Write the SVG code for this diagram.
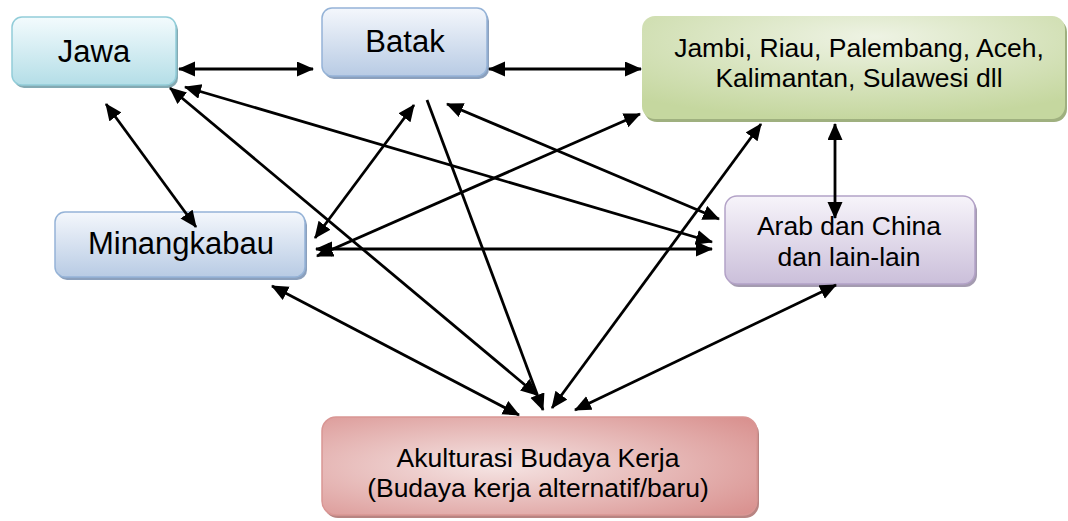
<svg xmlns="http://www.w3.org/2000/svg" width="1068" height="521" viewBox="0 0 1068 521">
<style>
.big{font-size:31px}
.sm{font-size:26.5px}
.c{fill:none;stroke:#000;stroke-width:2.8;marker-end:url(#ah)}
.d{marker-start:url(#ah)}
</style>
<defs>
<marker id="ah" markerUnits="userSpaceOnUse" markerWidth="18" markerHeight="16" refX="16" refY="7.5" orient="auto-start-reverse" viewBox="0 0 18 16">
<path d="M0,0 L17,7.5 L0,15 z" fill="#000"/>
</marker>
<linearGradient id="gJ" x1="0" y1="0" x2="0" y2="1"><stop offset="0" stop-color="#f3fbfd"/><stop offset="1" stop-color="#b4dee7"/></linearGradient>
<linearGradient id="gB" x1="0" y1="0" x2="0" y2="1"><stop offset="0" stop-color="#f4f7fc"/><stop offset="1" stop-color="#b8cbe4"/></linearGradient>
<linearGradient id="gA" x1="0" y1="0" x2="0" y2="1"><stop offset="0" stop-color="#f7f4fa"/><stop offset="1" stop-color="#cbbfda"/></linearGradient>
<radialGradient id="gG" cx="0.5" cy="0.25" r="0.75" fx="0.55" fy="0.2"><stop offset="0" stop-color="#eef3e4"/><stop offset="1" stop-color="#c5d79f"/></radialGradient>
<radialGradient id="gP" cx="0.4" cy="0.5" r="0.75" fx="0.4" fy="0.5"><stop offset="0" stop-color="#f5e4e3"/><stop offset="1" stop-color="#d9918f"/></radialGradient>
</defs>

<g font-family="Liberation Sans, Arial, Helvetica, sans-serif" text-anchor="middle" fill="#000">
<g id="jawa">
<rect x="14" y="20" width="164" height="68" rx="10" fill="#84aab3"/>
<rect x="12" y="17" width="164" height="68" rx="10" fill="url(#gJ)" stroke="#92cdd9" stroke-width="1.5"/>
<text class="big" x="94" y="62" fill="#000">Jawa</text>
</g>

<g id="batak">
<rect x="324" y="11" width="165" height="68" rx="10" fill="#8ba0bd"/>
<rect x="322" y="8" width="165" height="68" rx="10" fill="url(#gB)" stroke="#95b3d7" stroke-width="1.5"/>
<text class="big" x="405" y="52" fill="#000">Batak</text>
</g>

<g id="jambi">
<rect x="644" y="19" width="423" height="103" rx="13" fill="#9fb07f"/>
<rect x="642" y="16" width="423" height="103" rx="13" fill="url(#gG)"/>
<text class="sm" x="859" y="57" fill="#000">Jambi, Riau, Palembang, Aceh,</text>
<text class="sm" x="859" y="87" fill="#000">Kalimantan, Sulawesi dll</text>
</g>

<g id="minangkabau">
<rect x="57" y="215" width="250" height="65" rx="10" fill="#8ba0bd"/>
<rect x="55" y="212" width="250" height="65" rx="10" fill="url(#gB)" stroke="#95b3d7" stroke-width="1.5"/>
<text class="big" x="181" y="254" fill="#000">Minangkabau</text>
</g>

<g id="arab">
<rect x="727" y="199" width="250" height="88" rx="12" fill="#a49bb0"/>
<rect x="725" y="196" width="250" height="88" rx="12" fill="url(#gA)" stroke="#b3a2c7" stroke-width="1.5"/>
<text class="sm" x="849" y="235" fill="#000">Arab dan China</text>
<text class="sm" x="849" y="266" fill="#000">dan lain-lain</text>
</g>

<g id="akulturasi">
<rect x="324" y="420" width="435" height="98" rx="14" fill="#b88482"/>
<rect x="322" y="417" width="435" height="98" rx="14" fill="url(#gP)" stroke="#d99694" stroke-width="1.5"/>
<text class="sm" x="538" y="467" fill="#000">Akulturasi Budaya Kerja</text>
<text class="sm" x="538" y="497" fill="#000">(Budaya kerja alternatif/baru)</text>
</g>
</g>

<g id="connectors">
<line class="c d" x1="179" y1="69" x2="313" y2="69"/>
<line class="c d" x1="489" y1="69" x2="641" y2="69"/>
<line class="c d" x1="106" y1="104" x2="196" y2="227"/>
<line class="c d" x1="170" y1="88" x2="537" y2="395"/>
<line class="c d" x1="185" y1="87" x2="712" y2="242"/>
<line class="c" x1="427" y1="100" x2="543" y2="410"/>
<line class="c d" x1="414" y1="105" x2="315" y2="238"/>
<line class="c d" x1="447" y1="104" x2="719" y2="219"/>
<line class="c d" x1="640" y1="114" x2="317" y2="256"/>
<line class="c d" x1="316" y1="249" x2="712" y2="249"/>
<line class="c d" x1="272" y1="286" x2="519" y2="415"/>
<line class="c d" x1="761" y1="124" x2="552" y2="408"/>
<line class="c d" x1="835" y1="124" x2="835" y2="218"/>
<line class="c d" x1="836" y1="285" x2="575" y2="410"/>
</g>
</svg>
